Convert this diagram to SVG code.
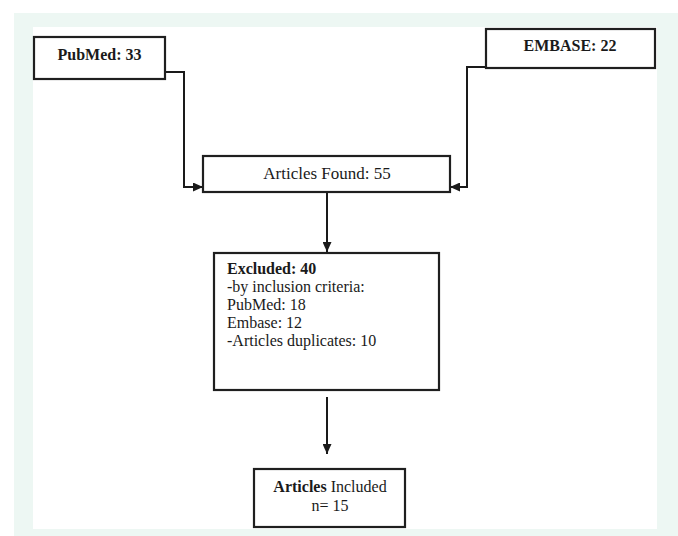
<svg xmlns="http://www.w3.org/2000/svg" width="678" height="536" viewBox="0 0 678 536">
  <defs>
    <marker id="arr" markerUnits="userSpaceOnUse" markerWidth="10" markerHeight="9" refX="10" refY="4.5" orient="auto">
      <path d="M0,0 L10,4.5 L0,9 z" fill="#1a1a1a"/>
    </marker>
    <style>
      .box { fill: #ffffff; stroke: #1f1f1f; stroke-width: 2.2; }
      .t { font-family: "Liberation Serif", "Times New Roman", serif; font-size: 16px; fill: #1a1a1a; }
      .b { font-weight: bold; }
      .c { text-anchor: middle; }
      .line { fill: none; stroke: #1a1a1a; stroke-width: 2; }
    </style>
  </defs>
  <rect x="14" y="13" width="664" height="523" fill="#edf7f3"/>
  <rect x="33" y="27" width="624" height="502" fill="#ffffff"/>

  <g id="connectors">
    <path class="line" d="M165,72 H184 V187 H203" marker-end="url(#arr)"/>
    <path class="line" d="M486,67 H467 V187 H450" marker-end="url(#arr)"/>
    <path class="line" d="M327,192 V252" marker-end="url(#arr)"/>
    <path class="line" d="M327,397 V454" marker-end="url(#arr)"/>
  </g>

  <g id="pubmed">
    <rect class="box" x="34" y="37" width="131" height="42"/>
    <text class="t b c" x="99.5" y="60">PubMed: 33</text>
  </g>
  <g id="embase">
    <rect class="box" x="486" y="29" width="169" height="39"/>
    <text class="t b c" x="570" y="51">EMBASE: 22</text>
  </g>
  <g id="found">
    <rect class="box" x="203" y="156" width="247" height="36"/>
    <text class="t c" x="327" y="179" style="font-size:17px">Articles Found: 55</text>
  </g>
  <g id="excluded">
    <rect class="box" x="214" y="253" width="225" height="137"/>
    <text class="t" x="227" y="274"><tspan class="b">Excluded: 40</tspan></text>
    <text class="t" x="227" y="292">-by inclusion criteria:</text>
    <text class="t" x="227" y="310">PubMed: 18</text>
    <text class="t" x="227" y="328">Embase: 12</text>
    <text class="t" x="227" y="346">-Articles duplicates: 10</text>
  </g>
  <g id="included">
    <rect class="box" x="254" y="469" width="151" height="58"/>
    <text class="t c" x="330" y="492"><tspan class="b">Articles</tspan> Included</text>
    <text class="t c" x="330" y="511">n= 15</text>
  </g>
</svg>
